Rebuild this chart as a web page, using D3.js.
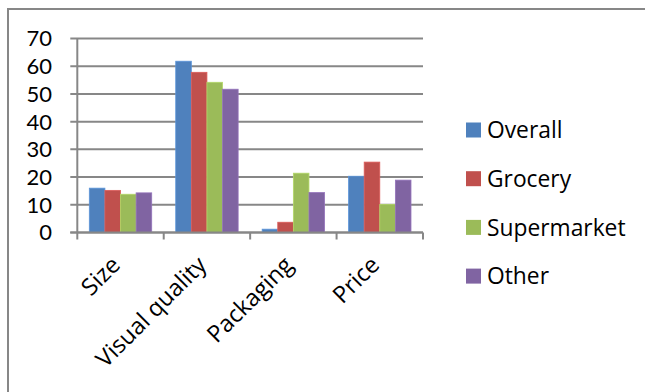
<!DOCTYPE html>
<html><head><meta charset="utf-8">
<script src="https://cdn.jsdelivr.net/npm/d3@7"></script>
<style>
html,body{margin:0;padding:0;background:#fff;}
svg{display:block;font-family:"Open Sans",sans-serif;}
</style></head>
<body><svg id="c" width="645" height="392"></svg>
<script>
const categories = ["Size", "Visual quality", "Packaging", "Price"];
const seriesNames = ["Overall", "Grocery", "Supermarket", "Other"];
const overall = [16.0, 61.8, 1.2, 20.3];
const grocery = [15.2, 57.8, 3.7, 25.4];
const supermarket = [13.8, 54.2, 21.4, 10.1];
const other = [14.3, 51.7, 14.4, 18.9];
const yTicks = [0, 10, 20, 30, 40, 50, 60, 70];
const colors = ["#4F81BD", "#C0504D", "#9BBB59", "#8064A2"];

(function () {
const seriesValues = [overall, grocery, supermarket, other];
const svg = d3.select("#c");
const gridColor = "#878787";

// outer frame
svg.append("rect").attr("x", 8).attr("y", 9).attr("width", 700).attr("height", 500)
  .attr("fill", "none").attr("stroke", gridColor).attr("stroke-width", 2);

const pLeft = 77.3, pRight = 423, pTop = 38.5, pBottom = 232.5;
const x0 = d3.scaleBand().domain(categories).range([pLeft, pRight]).paddingInner(0).paddingOuter(0);
const x1 = d3.scaleBand().domain(seriesNames).range([0, x0.bandwidth()]).paddingInner(0).paddingOuter(0.77);
const y = d3.scaleLinear().domain([0, 70]).range([pBottom, pTop]);

// gridlines
svg.append("g").selectAll("line").data(yTicks).join("line")
  .attr("x1", pLeft - 7).attr("x2", pRight)
  .attr("y1", d => y(d)).attr("y2", d => y(d))
  .attr("stroke", gridColor).attr("stroke-width", 2);

// bars
const g = svg.append("g");
categories.forEach((c, ci) => {
  seriesNames.forEach((s, si) => {
    const v = seriesValues[si][ci];
    g.append("rect")
      .attr("x", x0(c) + x1(s))
      .attr("y", y(v))
      .attr("width", x1.bandwidth())
      .attr("height", y(0) - y(v))
      .attr("fill", colors[si])
      .attr("stroke", d3.color(colors[si]).brighter(0.4))
      .attr("stroke-width", 0.8);
  });
});

// y axis line
svg.append("line").attr("x1", pLeft).attr("x2", pLeft).attr("y1", pTop).attr("y2", pBottom)
  .attr("stroke", gridColor).attr("stroke-width", 2);
// x axis line + ticks
svg.append("line").attr("x1", pLeft - 7).attr("x2", pRight).attr("y1", pBottom).attr("y2", pBottom)
  .attr("stroke", gridColor).attr("stroke-width", 2);
const xTickPos = categories.map(c => x0(c)).concat([x0.range()[1]]);
svg.append("g").selectAll("line").data(xTickPos).join("line")
  .attr("x1", d => d).attr("x2", d => d).attr("y1", pBottom).attr("y2", pBottom + 7)
  .attr("stroke", gridColor).attr("stroke-width", 2);

// y labels
svg.append("g").selectAll("text").data(yTicks).join("text")
  .attr("x", 52).attr("y", d => y(d)).attr("dy", "0.36em")
  .attr("text-anchor", "end").attr("font-size", 22).attr("font-family", "Lato")
  .attr("fill", "#000")
  .text(d => d);

// x labels
svg.append("g").selectAll("text").data(categories).join("text")
  .attr("transform", d => `translate(${x0(d) + x0.bandwidth() / 2 + 1},${pBottom + 34}) rotate(-45)`)
  .attr("text-anchor", "end").attr("font-size", 23.5).attr("fill", "#000")
  .text(d => d);

// legend
const lg = svg.append("g");
seriesNames.forEach((s, i) => {
  const cy = 130 + i * 48.7;
  lg.append("rect").attr("x", 466).attr("y", cy - 7.5).attr("width", 15).attr("height", 15).attr("fill", colors[i]);
  lg.append("text").attr("x", 487).attr("y", cy).attr("dy", "0.36em")
    .attr("font-size", 22.8).attr("fill", "#000").text(s);
});
})();
</script></body></html>
